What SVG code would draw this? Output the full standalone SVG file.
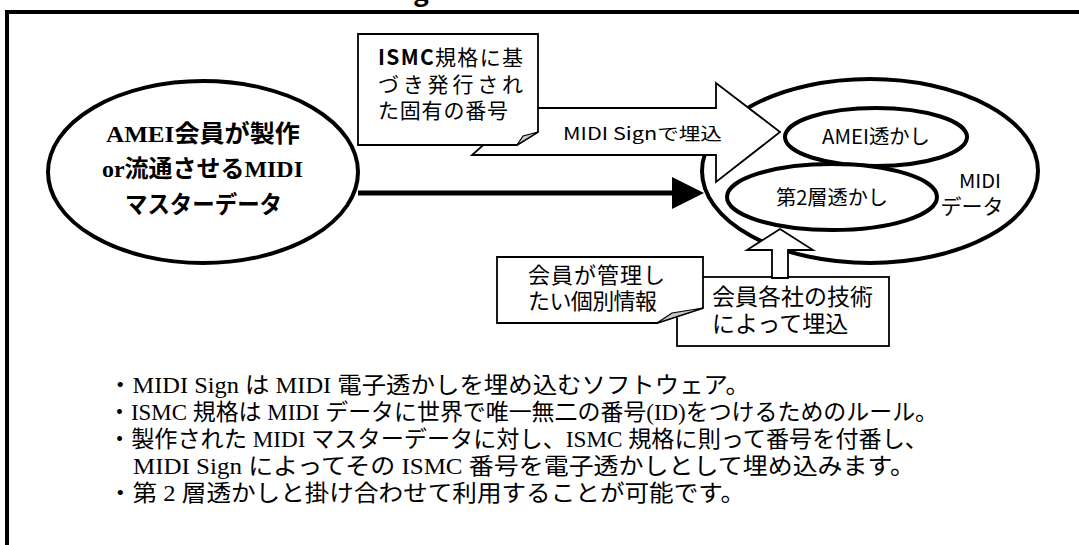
<svg xmlns="http://www.w3.org/2000/svg" width="1079" height="545" viewBox="0 0 1079 545">
<style>
.frame{fill:none;stroke:#000;stroke-width:4}
.ell{fill:#fff;stroke:#000;stroke-width:4}
.box{fill:#fff;stroke:#000;stroke-width:1.8;stroke-linejoin:miter}
.fold{fill:#c8c8c8;stroke:#000;stroke-width:1.2}
.blk{fill:#fff;stroke:#000;stroke-width:1.8;stroke-linejoin:miter}
.go{font-family:"Noto Sans CJK JP","Noto Sans",sans-serif;fill:#000}
.bo{font-family:"Liberation Serif","Noto Sans CJK JP",serif;font-weight:bold;font-size:24px;fill:#000}
.se{font-family:"Liberation Serif","Noto Sans CJK JP",serif;font-size:23px;fill:#000}
</style>
<rect width="1079" height="545" fill="#fff"/>
<text x="421" y="1" class="go" font-size="26" font-weight="bold" text-anchor="middle">g</text>
<path class="frame" d="M7,545 V12 H1079"/>

<g id="node-master">
<ellipse class="ell" cx="203" cy="172" rx="155" ry="91"/>
<text class="bo" x="106" y="142" textLength="194" lengthAdjust="spacingAndGlyphs">AMEI会員が製作</text>
<text class="bo" x="102" y="177" textLength="201" lengthAdjust="spacingAndGlyphs">or流通させるMIDI</text>
<text class="bo" x="125" y="213" textLength="157" lengthAdjust="spacingAndGlyphs">マスターデータ</text>
</g>

<g id="node-midi">
<ellipse class="ell" cx="870" cy="171" rx="168" ry="92"/>
<text class="go" x="980" y="188" font-size="19" text-anchor="middle" textLength="42" lengthAdjust="spacingAndGlyphs">MIDI</text>
<text class="go" x="972" y="214" font-size="21" text-anchor="middle">データ</text>
</g>

<g id="node-tech">
<rect class="box" x="677" y="277" width="212" height="69"/>
<text class="go" x="712" y="305" font-size="23">会員各社の技術</text>
<text class="go" x="712" y="332" font-size="23">によって埋込</text>
</g>

<g id="connectors">
<line x1="358" y1="193" x2="676" y2="193" stroke="#000" stroke-width="5"/>
<polygon points="672,177 704,193 672,209" fill="#000"/>
<polygon class="blk" points="472,155 716,155 716,182 780,132 716,83 716,108 525,108"/>
<text class="go" x="563" y="140" font-size="17" textLength="159" lengthAdjust="spacingAndGlyphs">MIDI Signで埋込</text>
<polygon class="blk" points="772,278 772,250 747,250 780,229 813,250 788,250 788,278"/>
</g>

<g id="node-ismc">
<polygon class="box" points="358,34 538,34 538,132 517,145 358,145"/>
<polygon class="fold" points="538,132 517,145 523,136"/>
<text class="go" x="378" y="65" font-size="21" textLength="145" lengthAdjust="spacing"><tspan font-weight="bold">ISMC</tspan>規格に基</text>
<text class="go" x="378" y="92" font-size="21" textLength="145" lengthAdjust="spacing">づき発行され</text>
<text class="go" x="378" y="118" font-size="21" textLength="130" lengthAdjust="spacing">た固有の番号</text>
</g>

<g id="node-amei">
<ellipse class="ell" cx="876" cy="137" rx="91" ry="29"/>
<text class="go" x="876" y="144" font-size="20" text-anchor="middle" textLength="108" lengthAdjust="spacingAndGlyphs">AMEI透かし</text>
</g>

<g id="node-layer2">
<ellipse class="ell" cx="832" cy="197" rx="105" ry="33"/>
<text class="go" x="832" y="205" font-size="20" text-anchor="middle" textLength="112" lengthAdjust="spacingAndGlyphs">第2層透かし</text>
</g>

<g id="node-member">
<polygon class="box" points="497,257 703,257 703,308 657,323 497,323"/>
<polygon class="fold" points="703,308 657,323 672,313"/>
<text class="go" x="528" y="283" font-size="22" textLength="137" lengthAdjust="spacing">会員が管理し</text>
<text class="go" x="528" y="309" font-size="22" textLength="129" lengthAdjust="spacing">たい個別情報</text>
</g>

<g id="notes">
<text class="se" x="108" y="393" textLength="642" lengthAdjust="spacingAndGlyphs">・MIDI Sign は MIDI 電子透かしを埋め込むソフトウェア。</text>
<text class="se" x="108" y="420" textLength="830" lengthAdjust="spacingAndGlyphs">・ISMC 規格は MIDI データに世界で唯一無二の番号(ID)をつけるためのルール。</text>
<text class="se" x="108" y="447" textLength="820" lengthAdjust="spacingAndGlyphs">・製作された MIDI マスターデータに対し、ISMC 規格に則って番号を付番し、</text>
<text class="se" x="133" y="474" textLength="782" lengthAdjust="spacingAndGlyphs">MIDI Sign によってその ISMC 番号を電子透かしとして埋め込みます。</text>
<text class="se" x="108" y="501" textLength="637" lengthAdjust="spacingAndGlyphs">・第 2 層透かしと掛け合わせて利用することが可能です。</text>
</g>
</svg>
